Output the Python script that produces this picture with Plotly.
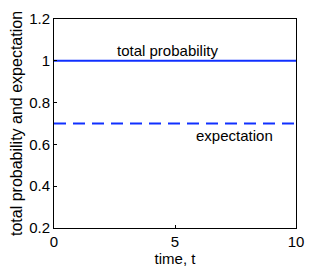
import plotly.graph_objects as go

t = [0, 2, 4, 6, 8, 10]
total_probability = [1.0, 1.0, 1.0, 1.0, 1.0, 1.0]
expectation = [0.7, 0.7, 0.7, 0.7, 0.7, 0.7]
x_ticks = [0, 5, 10]
x_tick_labels = ["0", "5", "10"]
y_ticks = [0.2, 0.4, 0.6, 0.8, 1.0, 1.2]
y_tick_labels = ["0.2", "0.4", "0.6", "0.8", "1", "1.2"]

font = dict(family="Liberation Sans, Arial, sans-serif", size=15, color="black")
line_color = "#1030ff"

fig = go.Figure()
fig.add_trace(go.Scatter(x=t, y=total_probability, mode="lines",
                         line=dict(color=line_color, width=2), showlegend=False))
fig.add_trace(go.Scatter(x=t, y=expectation, mode="lines",
                         line=dict(color=line_color, width=2, dash="12px,7px"),
                         showlegend=False))

fig.add_annotation(x=4.67, y=1.0, text="total probability", showarrow=False,
                   yanchor="bottom", yshift=0, font=font)
fig.add_annotation(x=7.44, y=0.7, text="expectation", showarrow=False,
                   yanchor="top", yshift=-1, font=font)

axis_common = dict(showline=True, linecolor="black", linewidth=1, mirror=True,
                   ticks="inside", ticklen=3, tickcolor="black", showgrid=False,
                   zeroline=False, tickfont=font, automargin=False)
fig.update_xaxes(range=[0, 10], tickvals=x_ticks, ticktext=x_tick_labels,
                 title=dict(text="time, t", font=font, standoff=2), **axis_common)
fig.update_yaxes(range=[0.2, 1.2], tickvals=y_ticks, ticktext=y_tick_labels,
                 title=dict(text="total probability and expectation",
                            font=dict(family=font["family"], size=16, color="black"),
                            standoff=6),
                 **axis_common)

fig.update_layout(width=319, height=265, margin=dict(l=46, r=31, t=11, b=45),
                  paper_bgcolor="white", plot_bgcolor="white", font=font)
fig.write_html("out.html")
